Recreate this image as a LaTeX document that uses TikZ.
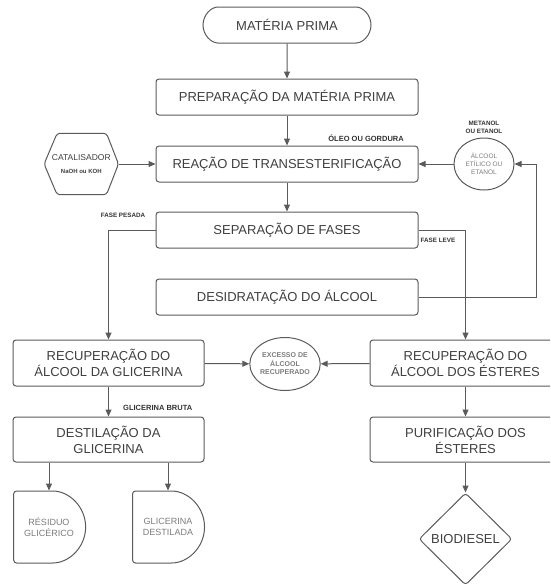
\documentclass[tikz,border=0pt]{standalone}
\usepackage{fontspec}
\setmainfont{Liberation Sans}
\usetikzlibrary{arrows.meta, positioning, shapes.geometric, shapes.misc}
\definecolor{linegray}{HTML}{5A5A5A}
\definecolor{textgray}{HTML}{3F3F3F}
\definecolor{softgray}{HTML}{7C7C7C}

\begin{document}
\begin{tikzpicture}[x=1pt, y=-1pt]
	\tikzset {>={Triangle[length=7pt, width=6pt]}, node distance=30pt,
		every node/.style={text=textgray, align=center, inner sep=0pt},
		outline/.style={draw=linegray, line width=1pt, rounded corners=3pt},
		startbox/.style={outline, rounded rectangle, minimum width=168pt, minimum height=36pt, font=\fontsize{13}{16}\selectfont},
		box/.style={outline, minimum width=262pt, minimum height=36pt, font=\fontsize{13}{16}\selectfont},
		boxtwo/.style={outline, minimum width=191pt, minimum height=46pt, font=\fontsize{13}{16}\selectfont},
		hexbox/.style={minimum width=74pt, minimum height=61pt, font=\fontsize{8.5}{10}\selectfont},
		ovalbox/.style={draw=linegray, line width=1pt, ellipse, minimum width=60pt, minimum height=52pt, text=softgray, font=\fontsize{6.5}{8}\selectfont},
		delaybox/.style={outline, rounded rectangle, rounded rectangle west arc=none, minimum width=72pt, minimum height=72pt, text=softgray, font=\fontsize{9}{11}\selectfont},
		endbox/.style={outline, diamond, aspect=1, minimum width=93pt, minimum height=92pt, font=\fontsize{13}{16}\selectfont},
		flowtag/.style={text=black!80, font=\bfseries\fontsize{7.5}{9}\selectfont},
		smalltag/.style={text=black!80, font=\bfseries\fontsize{6.3}{7.5}\selectfont},
		flow/.style={->, draw=linegray, line width=1pt}
	}
	\useasboundingbox (0,0) rectangle (550,584);
	\clip (0,0) rectangle (550,584);

	% coluna central
	\node[startbox] (mp) at (287,25) {MATÉRIA PRIMA};
	\node[box, below=35pt of mp] (prep) {PREPARAÇÃO DA MATÉRIA PRIMA};
	\node[box, below=of prep] (reac) {REAÇÃO DE TRANSESTERIFICAÇÃO};
	\node[box, below=29pt of reac] (sep) {SEPARAÇÃO DE FASES};
	\node[box, below=of sep] (desid) {DESIDRATAÇÃO DO ÁLCOOL};

	\node[hexbox, left=37pt of reac] (cat) {CATALISADOR\\[3pt]{\bfseries\fontsize{6}{7}\selectfont NaOH ou KOH}};
	\draw[outline] (cat.west) -- ([xshift=13pt]cat.north west) -- ([xshift=-12pt]cat.north east) -- (cat.east)
		-- ([xshift=-12pt]cat.south east) -- ([xshift=13pt]cat.south west) -- cycle;
	\node[ovalbox, right=35pt of reac] (alc) {ÁLCOOL\\ETÍLICO OU\\ETANOL};
	\node[smalltag, above=4pt of alc] (metanol) {METANOL\\OU ETANOL};
	\node[flowtag, anchor=east] (oleo) at (404,138) {ÓLEO OU GORDURA};

	% recuperacao
	\node[boxtwo] (recg) at (108.5,363) {RECUPERAÇÃO DO\\ÁLCOOL DA GLICERINA};
	\node[boxtwo] (rece) at (465.5,363) {RECUPERAÇÃO DO\\ÁLCOOL DOS ÉSTERES};
	\node[ovalbox, minimum width=64pt, minimum height=53pt, font=\bfseries\fontsize{7}{8.5}\selectfont] (exc) at (285,364) {EXCESSO DE\\ÁLCOOL\\RECUPERADO};
	\node[smalltag] (pesada) at (123,215) {FASE PESADA};
	\node[smalltag] (leve) at (438,240) {FASE LEVE};

	\node[boxtwo, below=of recg, minimum height=45pt] (destg) {DESTILAÇÃO DA\\GLICERINA};
	\node[boxtwo, below=of rece, minimum height=45pt] (pur) {PURIFICAÇÃO DOS\\ÉSTERES};
	\node[flowtag, anchor=west] (bruta) at (123,408) {GLICERINA BRUTA};

	\node[delaybox] (res) at (49,527) {RÉSIDUO\\GLICÉRICO};
	\node[delaybox] (gdest) at (168,527) {GLICERINA\\DESTILADA};
	\node[endbox, below=of pur] (bio) {BIODIESEL};

	\draw[flow] (mp) -- (prep);
	\draw[flow] (prep) -- (reac);
	\draw[flow] (reac) -- (sep);
	\draw[flow] (cat) -- (reac);
	\draw[flow] (alc) -- (reac);
	\draw[flow] (desid.east) -- ++(118,0) |- (alc.east);
	\draw[flow] (sep.west) -| (recg.north);
	\draw[flow] (sep.east) -| (rece.north);
	\draw[flow] (recg) -- (exc);
	\draw[flow] (rece) -- (exc);
	\draw[flow] (recg) -- (destg);
	\draw[flow] (rece) -- (pur);
	\draw[flow] (pur) -- (bio);
	\draw[flow] (res.north |- destg.south) -- (res.north);
	\draw[flow] (gdest.north |- destg.south) -- (gdest.north);
\end{tikzpicture}
\end{document}
